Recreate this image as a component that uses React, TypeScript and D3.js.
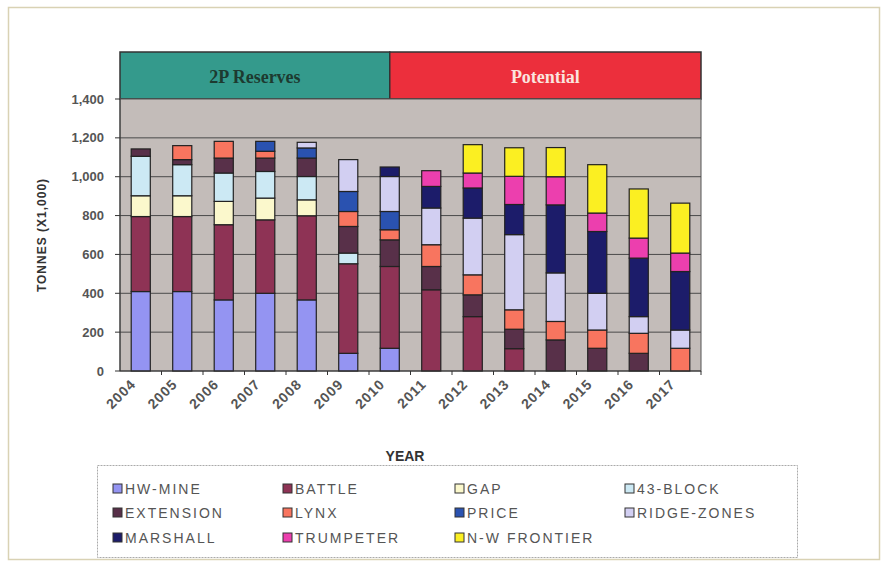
import { useMemo } from 'react';
import * as d3 from 'd3';

const years = ['2004', '2005', '2006', '2007', '2008', '2009', '2010', '2011', '2012', '2013', '2014', '2015', '2016', '2017'];

// tonnes (x1,000), stacked bottom to top
const hwMine = [409, 409, 366, 400, 366, 91, 117, 0, 0, 0, 0, 0, 0, 0];
const battle = [386, 386, 387, 378, 433, 461, 421, 418, 280, 115, 0, 0, 0, 0];
const gap = [107, 107, 120, 112, 82, 0, 0, 0, 0, 0, 0, 0, 0, 0];
const block43 = [203, 160, 146, 137, 120, 55, 0, 0, 0, 0, 0, 0, 0, 0];
const extension = [38, 26, 77, 69, 95, 137, 137, 120, 112, 100, 160, 117, 91, 0];
const lynx = [0, 72, 86, 35, 0, 77, 52, 112, 103, 100, 95, 94, 103, 117];
const price = [0, 0, 0, 51, 52, 103, 94, 0, 0, 0, 0, 0, 0, 0];
const ridgeZones = [0, 0, 0, 0, 29, 164, 180, 189, 292, 387, 250, 189, 86, 94];
const marshall = [0, 0, 0, 0, 0, 0, 49, 111, 155, 155, 350, 318, 301, 301];
const trumpeter = [0, 0, 0, 0, 0, 0, 0, 81, 77, 145, 145, 95, 103, 95];
const nwFrontier = [0, 0, 0, 0, 0, 0, 0, 0, 146, 147, 150, 249, 253, 257];

const seriesNames = ['HW-MINE', 'BATTLE', 'GAP', '43-BLOCK', 'EXTENSION', 'LYNX', 'PRICE', 'RIDGE-ZONES', 'MARSHALL', 'TRUMPETER', 'N-W FRONTIER'];
const seriesValues = [hwMine, battle, gap, block43, extension, lynx, price, ridgeZones, marshall, trumpeter, nwFrontier];
const seriesColors = ['#9494f2', '#8e3355', '#fbf8cc', '#cce9f4', '#583049', '#f8755f', '#2a52b0', '#d2cff2', '#1c1c6a', '#ec3fae', '#fbef22'];

const yTicks = [0, 200, 400, 600, 800, 1000, 1200, 1400];
const sections = [
	{ label: '2P Reserves', from: '2004', to: '2010', fill: '#349a8c', text: '#1d3a30' },
	{ label: 'Potential', from: '2010', to: '2017', fill: '#ec2f3c', text: '#fbe4df' },
];

export default function App() {
	const left = 120;
	const right = 701;
	const top = 99;
	const bottom = 371;

	const x = d3.scaleBand().domain(years).range([left, right]).paddingInner(0.54).paddingOuter(0.27);
	const y = d3.scaleLinear().domain([0, 1400]).range([bottom, top]);

	const stacked = useMemo(() => {
		const rows = years.map((yr, i) => {
			const r: Record<string, number | string> = { year: yr };
			seriesNames.forEach((n, s) => (r[n] = seriesValues[s][i]));
			return r;
		});
		return d3.stack<any>().keys(seriesNames)(rows);
	}, []);

	const step = x.step();
	const half = (yr: string) => (x(yr) as number) + x.bandwidth() / 2;
	const secX = (s: (typeof sections)[number], i: number) => {
		const x0 = i === 0 ? left : half(s.from);
		const x1 = i === 0 ? half(s.to) : right;
		return [x0, x1];
	};

	const legendCols = [113, 283, 455, 625];
	const legendRows = [489, 513, 538];

	return (
		<svg width={882} height={561} style={{ position: 'absolute', left: 0, top: 0 }} fontFamily="Arial, 'Liberation Sans', sans-serif">
			<rect x={0} y={0} width={882} height={561} fill="#fff" />
			<rect x={8.5} y={7.5} width={871} height={552} fill="none" stroke="#d9d2b4" strokeWidth={1.5} />

			{/* header bands */}
			{sections.map((s, i) => {
				const [x0, x1] = secX(s, i);
				return (
					<g key={s.label}>
						<rect x={x0} y={52} width={x1 - x0} height={top - 52} fill={s.fill} stroke="#333" strokeWidth={1.5} />
						<text x={(x0 + x1) / 2} y={83} textAnchor="middle" fontFamily="'Liberation Serif', 'Times New Roman', serif" fontWeight="bold" fontSize={18} fill={s.text}>
							{s.label}
						</text>
					</g>
				);
			})}

			{/* plot area */}
			<rect x={left} y={top} width={right - left} height={bottom - top} fill="#c3bcb9" stroke="#555" strokeWidth={1} />
			{yTicks.slice(1, -1).map(t => (
				<line key={t} x1={left} x2={right} y1={y(t)} y2={y(t)} stroke="#4a4a4a" strokeWidth={1} />
			))}

			{stacked.map((layer, s) => (
				<g key={layer.key} fill={seriesColors[s]}>
					{layer.map((d, i) =>
						d[1] - d[0] > 0 ? (
							<rect key={i} x={x(years[i])} y={y(d[1])} width={x.bandwidth()} height={y(d[0]) - y(d[1])} stroke="#222" strokeWidth={1.2} />
						) : null
					)}
				</g>
			))}

			{/* axes */}
			<line x1={left} x2={left} y1={top} y2={bottom} stroke="#333" />
			<line x1={left} x2={right} y1={bottom} y2={bottom} stroke="#333" />
			{yTicks.map(t => (
				<g key={t}>
					<line x1={left - 5} x2={left} y1={y(t)} y2={y(t)} stroke="#333" />
					<text x={104} y={y(t) + 4.5} textAnchor="end" fontSize={13} fill="#555" fontWeight="bold">
						{d3.format(',')(t)}
					</text>
				</g>
			))}
			{years.map((yr, i) => (
				<g key={yr}>
					<line x1={left + step * 0.27 - step * 0.27 + (i + 1) * step} x2={left + (i + 1) * step} y1={bottom} y2={bottom + 4} stroke="#333" />
					<text transform={`translate(${half(yr) - 4},${bottom + 14}) rotate(-45)`} textAnchor="end" fontSize={14} fontWeight="bold" fill="#555" letterSpacing={1}>
						{yr}
					</text>
				</g>
			))}
			<text transform={`translate(46,${(top + bottom) / 2}) rotate(-90)`} textAnchor="middle" fontSize={12} fontWeight="bold" fill="#333" letterSpacing={1}>
				TONNES (X1,000)
			</text>
			<text x={405} y={461} textAnchor="middle" fontSize={14} fontWeight="bold" fill="#333">
				YEAR
			</text>

			{/* legend */}
			<rect x={97.5} y={465.5} width={700} height={92} fill="#fff" stroke="#aaa" strokeDasharray="2,1" />
			{seriesNames.map((n, s) => {
				const cx = legendCols[s % 4];
				const cy = legendRows[Math.floor(s / 4)];
				return (
					<g key={n}>
						<rect x={cx} y={cy - 5} width={9} height={9} fill={seriesColors[s]} stroke="#333" />
						<text x={cx + 12} y={cy + 5} fontSize={14} fill="#555" letterSpacing={2}>
							{n}
						</text>
					</g>
				);
			})}
		</svg>
	);
}
